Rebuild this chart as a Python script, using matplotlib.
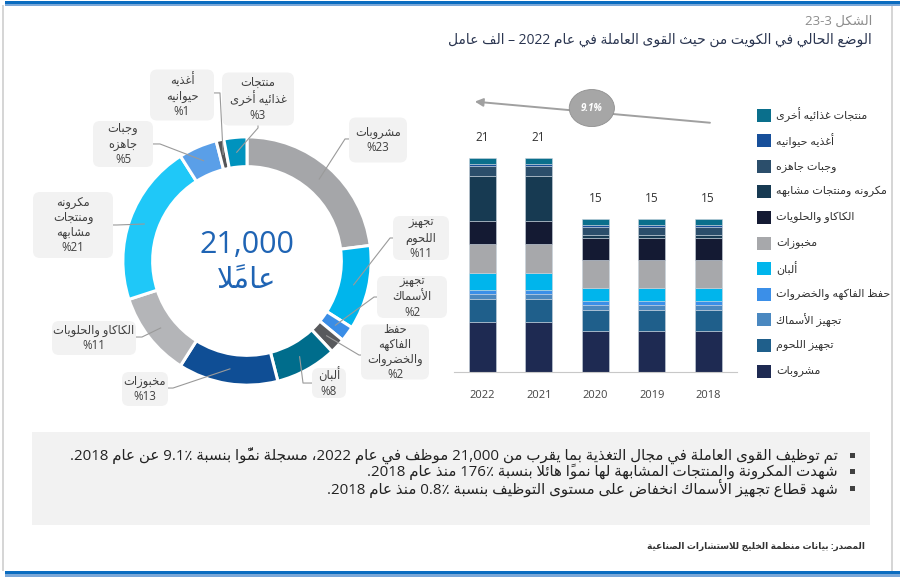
import re
import matplotlib
matplotlib.use('Agg')
import matplotlib.pyplot as plt
from matplotlib.patches import Rectangle, Ellipse, FancyBboxPatch
from matplotlib.transforms import IdentityTransform
import numpy as np

# ---------- minimal arabic shaping + rtl ordering (no reshaper available) ----------
_two = {0x622: 0xFE81, 0x623: 0xFE83, 0x624: 0xFE85, 0x625: 0xFE87, 0x627: 0xFE8D, 0x629: 0xFE93,
        0x62F: 0xFEA9, 0x630: 0xFEAB, 0x631: 0xFEAD, 0x632: 0xFEAF, 0x648: 0xFEED, 0x649: 0xFEEF}
_four = {0x626: 0xFE89, 0x628: 0xFE8F, 0x62A: 0xFE95, 0x62B: 0xFE99, 0x62C: 0xFE9D, 0x62D: 0xFEA1,
         0x62E: 0xFEA5, 0x633: 0xFEB1, 0x634: 0xFEB5, 0x635: 0xFEB9, 0x636: 0xFEBD, 0x637: 0xFEC1,
         0x638: 0xFEC5, 0x639: 0xFEC9, 0x63A: 0xFECD, 0x641: 0xFED1, 0x642: 0xFED5, 0x643: 0xFED9,
         0x644: 0xFEDD, 0x645: 0xFEE1, 0x646: 0xFEE5, 0x647: 0xFEE9, 0x64A: 0xFEF1}
_lamalef = {0x622: 0xFEF5, 0x623: 0xFEF7, 0x625: 0xFEF9, 0x627: 0xFEFB}


def _mark(c):
    return 0x64B <= ord(c) <= 0x652 or ord(c) == 0x670


def _dual(c):
    return ord(c) in _four or ord(c) == 0x640


def _joins(c):
    return ord(c) in _four or ord(c) in _two or ord(c) == 0x640


def shape(s):
    ch = list(s)
    n = len(ch)
    out = []
    i = 0
    while i < n:
        c = ch[i]
        o = ord(c)
        if not _joins(c) or o == 0x640:
            out.append(c)
            i += 1
            continue
        k = i - 1
        while k >= 0 and _mark(ch[k]):
            k -= 1
        jp = k >= 0 and _dual(ch[k])
        k = i + 1
        while k < n and _mark(ch[k]):
            k += 1
        nx = ch[k] if k < n else ''
        if o == 0x644 and nx and ord(nx) in _lamalef:
            out.append(chr(_lamalef[ord(nx)] + (1 if jp else 0)))
            out.extend(ch[i + 1:k])
            i = k + 1
            continue
        if o in _four:
            jn = nx != '' and _joins(nx)
            off = 3 if (jp and jn) else 1 if jp else 2 if jn else 0
            out.append(chr(_four[o] + off))
        else:
            out.append(chr(_two[o] + (1 if jp else 0)))
        i += 1
    return ''.join(out)


def _rev(t):
    cl = []
    for c in t:
        if _mark(c) and cl:
            cl[-1] += c
        else:
            cl.append(c)
    return ''.join(reversed(cl))


LTR = re.compile(r'[%٪]?[0-9A-Za-z]+(?:[.,:\-][0-9A-Za-z]+)*[%٪]?')


def ar(s):
    lines = []
    for line in s.split('\n'):
        line = shape(line)
        runs, pos = [], 0
        for m in LTR.finditer(line):
            if m.start() > pos:
                runs.append((0, line[pos:m.start()]))
            runs.append((1, m.group()))
            pos = m.end()
        if pos < len(line):
            runs.append((0, line[pos:]))
        lines.append(''.join(t if k else _rev(t) for k, t in reversed(runs)))
    return '\n'.join(lines)


# ---------------- data ----------------
years = ['2022', '2021', '2020', '2019', '2018']
sectors = ['مشروبات', 'تجهيز اللحوم', 'تجهيز الأسماك', 'حفظ الفاكهه والخضروات', 'ألبان', 'مخبوزات',
           'الكاكاو والحلويات', 'مكرونه ومنتجات مشابهه', 'وجبات جاهزه', 'أغذيه حيوانيه', 'منتجات غذائيه أخرى']
# thousand workers, one list per sector, same order as years
beverages = [4.86, 4.86, 4.0, 4.0, 4.0]
meat = [2.27, 2.27, 2.07, 2.07, 2.07]
fish = [0.42, 0.42, 0.42, 0.42, 0.42]
fruit_veg = [0.45, 0.45, 0.42, 0.42, 0.42]
dairy = [1.62, 1.62, 1.3, 1.3, 1.3]
bakery = [2.85, 2.85, 2.66, 2.66, 2.66]
cocoa = [2.2, 2.2, 2.2, 2.2, 2.2]
pasta = [4.34, 4.34, 0.2, 0.2, 0.2]
ready_meals = [0.97, 0.97, 0.85, 0.85, 0.85]
animal_feed = [0.2, 0.2, 0.2, 0.2, 0.2]
other_food = [0.6, 0.6, 0.55, 0.55, 0.55]
stack = [beverages, meat, fish, fruit_veg, dairy, bakery, cocoa, pasta, ready_meals, animal_feed, other_food]

share_2022 = [23, 11, 2, 2, 8, 13, 11, 21, 5, 1, 3]
pie_labels = ['مشروبات', 'تجهيز\nاللحوم', 'تجهيز\nالأسماك', 'حفظ\nالفاكهه\nوالخضروات', 'ألبان', 'مخبوزات',
              'الكاكاو والحلويات', 'مكرونه\nومنتجات\nمشابهه', 'وجبات\nجاهزه', 'أغذيه\nحيوانيه', 'منتجات\nغذائيه أخرى']
total_workers = '21,000'
growth = '9.1%'

bar_colors = ['#1e2a52', '#1f5f8b', '#4a88c0', '#3b8fe8', '#00b5ec', '#a7a8ab',
              '#141a33', '#173a52', '#2b4e6b', '#174f9a', '#0a6f8c']
pie_colors = ['#a5a6a9', '#00b5ec', '#3a8de6', '#58595c', '#006d8c', '#0f4e95',
              '#b4b5b8', '#1fc8f8', '#5a9fe8', '#555659', '#0093be']

bullets = [
    'تم توظيف القوى العاملة في مجال التغذية بما يقرب من 21,000 موظف في عام 2022، مسجلة نموًّا بنسبة 9.1٪ عن عام 2018.',
    'شهدت المكرونة والمنتجات المشابهة لها نمواً هائلا بنسبة 176٪ منذ عام 2018.',
    'شهد قطاع تجهيز الأسماك انخفاض على مستوى التوظيف بنسبة 0.8٪ منذ عام 2018.',
]

plt.rcParams['font.family'] = ['Open Sans', 'DejaVu Sans']

W, H = 900, 578
fig = plt.figure(figsize=(9, 5.78), dpi=100)
pix = IdentityTransform()


def rect(x, y, w, h, color, z=1, **kw):
    # top-left pixel coords
    fig.add_artist(Rectangle((x, H - y - h), w, h, transform=pix, facecolor=color,
                             edgecolor='none', zorder=z, **kw))


def ftext(x, y, s, **kw):
    return fig.text(x / W, 1 - y / H, s, **kw)


# frame
rect(5, 1, 895, 3, '#0a6cc0')
rect(5, 4, 895, 2, '#7aa7d8')
rect(5, 571, 895, 3, '#0a6cc0')
rect(5, 574, 895, 3, '#7aa7d8')
rect(2, 5, 2, 566, '#d6d6d6')
rect(891, 6, 2, 565, '#d6d6d6')

# titles
ftext(872, 21, ar('الشكل 23-3'), ha='right', va='center', fontsize=9.5, color='#8c8c8c')
ftext(872, 40, ar('الوضع الحالي في الكويت من حيث القوى العاملة في عام 2022 – الف عامل'),
      ha='right', va='center', fontsize=10, color='#2a3550')

# ---------------- donut ----------------
cx, cy, R = 247, 261, 124.1
ax_p = fig.add_axes([(cx - 180) / W, 1 - (cy + 180) / H, 360 / W, 360 / H])
wedges, _ = ax_p.pie(share_2022, colors=pie_colors, startangle=90, counterclock=False,
                     wedgeprops=dict(width=0.24, edgecolor='white', linewidth=2.2))
ax_p.set_xlim(-1.45, 1.45)
ax_p.set_ylim(-1.45, 1.45)
ax_p.axis('off')
ax_p.text(0, 0.13, total_workers, ha='center', va='center', fontsize=22, color='#1f64b4')
ax_p.text(0, -0.15, ar('عاملاً'), ha='center', va='center', fontsize=21, color='#1f64b4',
          family='DejaVu Sans')


def d(x, y):
    return (x - cx) / R, (cy - y) / R


# label boxes: centre, size, elbow, attach (pixels)
boxes = [
    ((378, 140), (58, 45), (345, 139), (349, 139)),
    ((421, 238), (56, 44), (390, 238), (393, 238)),
    ((412, 297), (70, 42), (374, 297), (377, 297)),
    ((395, 352), (68, 55), (359, 355), (361, 355)),
    ((329, 383), (34, 30), (303, 383), (312, 383)),
    ((145, 389), (46, 34), (173, 388), (168, 388)),
    ((94, 338), (84, 34), (142, 337), (136, 337)),
    ((73, 225), (80, 66), (117, 225), (113, 225)),
    ((123, 144), (60, 46), (160, 144), (153, 144)),
    ((182, 95), (64, 51), (220, 93), (214, 93)),
    ((258, 99), (72, 53), (258, 128), (258, 125)),
]
for w, lab, share, (c, size, elbow, att) in zip(wedges, pie_labels, share_2022, boxes):
    mid = np.deg2rad((w.theta1 + w.theta2) / 2)
    ring = (0.88 * np.cos(mid), 0.88 * np.sin(mid))
    ex, ey = d(*elbow)
    ax_, ay_ = d(*att)
    ax_p.plot([ring[0], ex, ax_], [ring[1], ey, ay_], color='#9a9a9a', lw=0.8,
              clip_on=False, zorder=3)
    bw, bh = size
    fig.add_artist(FancyBboxPatch((c[0] - bw / 2, H - c[1] - bh / 2), bw, bh,
                                  boxstyle='round,pad=0,rounding_size=7', transform=pix,
                                  facecolor='#f2f2f2', edgecolor='none', zorder=1))
    ftext(c[0], c[1], ar(lab + '\n%' + str(share)), ha='center', va='center',
          multialignment='center', fontsize=8.3, color='#404040', linespacing=1.2, zorder=4)

# ---------------- stacked bars ----------------
ppk = 10.29  # pixels per thousand
ax_b = fig.add_axes([454 / W, (H - 372) / H, 283 / W, 282 / H])
ax_b.set_facecolor('none')
x = np.arange(len(years))
bottom = np.zeros(len(years))
for vals, col in zip(stack, bar_colors):
    ax_b.bar(x, vals, 0.48, bottom=bottom, color=col, edgecolor='#c9d3dd', linewidth=0.4)
    bottom += np.array(vals)
for xi, tot in zip(x, bottom):
    ax_b.annotate(f'{round(tot):d}', (xi, tot), xytext=(0, 10), textcoords='offset points',
                  ha='center', va='bottom', fontsize=8.5, color='#333333')
ax_b.set_xlim(-0.5, 4.51)
ax_b.set_ylim(0, 282 / ppk)
for s in ['top', 'left', 'right']:
    ax_b.spines[s].set_visible(False)
ax_b.spines['bottom'].set_color('#c8c8c8')
ax_b.set_yticks([])
ax_b.set_xticks(x)
ax_b.set_xticklabels(years, fontsize=8, color='#444444')
ax_b.tick_params(axis='x', length=0, pad=13)

# growth arrow
ax_b.annotate('', xy=(-0.18, 26.3), xytext=(4.08, 24.2),
              arrowprops=dict(arrowstyle='-|>', color='#a0a0a0', lw=1.4, mutation_scale=12))
ax_b.add_patch(Ellipse((1.94, 25.65), 0.8, 3.6, facecolor='#a6a6a6', edgecolor='#909090', lw=0.6,
                       clip_on=False, zorder=3))
ax_b.text(1.94, 25.65, growth, ha='center', va='center', fontsize=7, color='white',
          style='italic', weight='bold', zorder=4)

# legend (top of stack first)
for i, (name, col) in enumerate(zip(sectors[::-1], bar_colors[::-1])):
    y = 115 + i * 25.6
    rect(757, y - 6.5, 14, 13, col, z=2)
    ftext(776, y, ar(name), ha='left', va='center', fontsize=8, color='#333333')

# ---------------- bullet box ----------------
rect(32, 432, 838, 93, '#f2f2f2', z=0.5)
for i, line in enumerate(bullets):
    y = 455 + i * 16.5
    rect(850, y - 2.5, 5, 5, '#404040', z=2)
    ftext(838, y, ar(line), ha='right', va='center', fontsize=10.8, color='#222222')

ftext(865, 546, ar('المصدر: بيانات منظمة الخليج للاستشارات الصناعية'), ha='right', va='center',
      fontsize=6.5, weight='bold', color='#333333')

fig.savefig('out.png', dpi=100)
